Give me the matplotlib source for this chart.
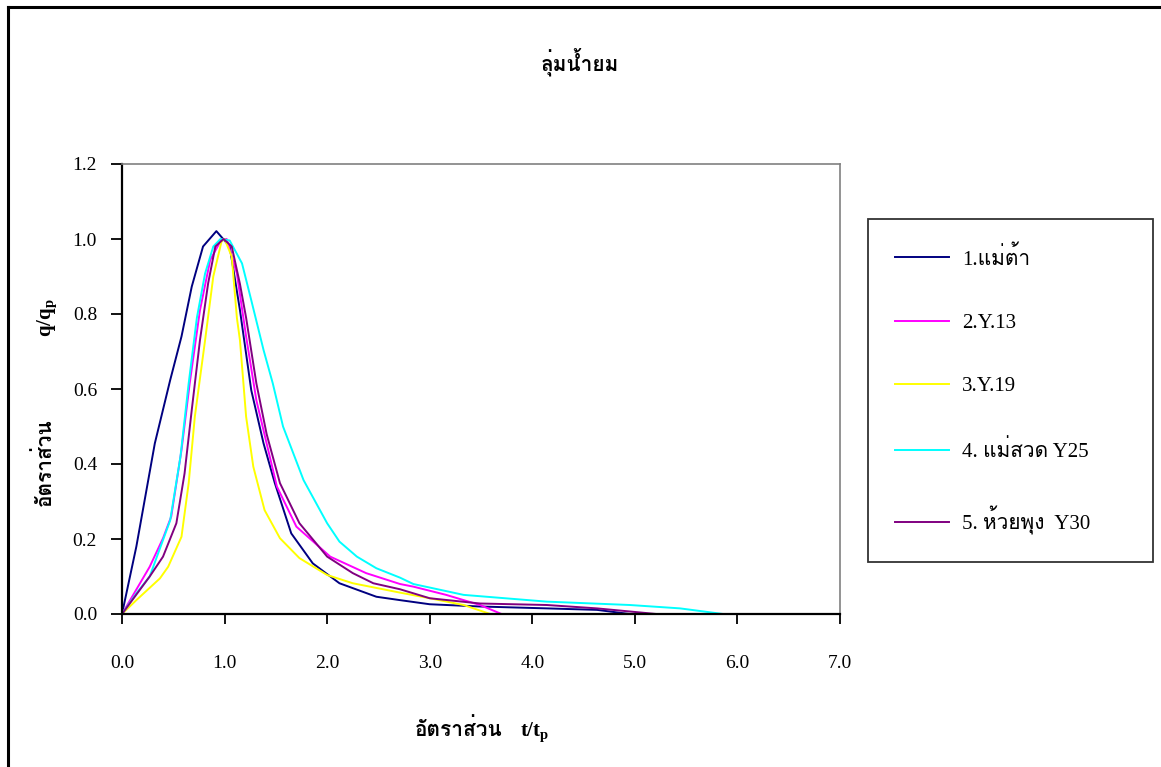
import matplotlib
matplotlib.use("Agg")
import matplotlib.pyplot as plt
from matplotlib import font_manager
from matplotlib.lines import Line2D
from fontTools.ttLib import TTFont


def find_thai_font():
    # look for any installed font that has Thai glyphs
    for f in font_manager.fontManager.ttflist:
        try:
            tt = TTFont(f.fname, fontNumber=0, lazy=True)
            cmap = tt.getBestCmap()
            if cmap and 0x0E01 in cmap and 0x0E48 in cmap:
                return f.name
        except Exception:
            continue
    return None


thai = find_thai_font()
serif = ["Liberation Serif"] + ([thai] if thai else []) + ["DejaVu Sans"]
sans = ([thai] if thai else []) + ["DejaVu Sans"]

plt.rcParams["mathtext.fontset"] = "custom"
plt.rcParams["mathtext.rm"] = "Liberation Serif"
plt.rcParams["mathtext.it"] = "Liberation Serif:italic"
plt.rcParams["mathtext.bf"] = "Liberation Serif:bold"

# data (t/tp, q/qp)
t1 = [0, 0.14, 0.32, 0.47, 0.58, 0.68, 0.79, 0.92, 1.05, 1.15, 1.26, 1.38, 1.49, 1.65, 1.86, 2.12, 2.48, 2.71, 3.0, 3.49, 4.14, 4.63, 4.95]
q1 = [0, 0.18, 0.455, 0.624, 0.74, 0.873, 0.98, 1.021, 0.98, 0.81, 0.597, 0.455, 0.349, 0.215, 0.135, 0.082, 0.046, 0.037, 0.026, 0.02, 0.015, 0.011, 0.0]

t2 = [0, 0.27, 0.40, 0.48, 0.58, 0.66, 0.76, 0.86, 0.97, 1.02, 1.12, 1.21, 1.31, 1.41, 1.51, 1.70, 2.03, 2.38, 2.71, 2.84, 3.16, 3.49, 3.70]
q2 = [0, 0.126, 0.202, 0.26, 0.437, 0.615, 0.81, 0.944, 0.999, 1.0, 0.908, 0.74, 0.57, 0.455, 0.34, 0.233, 0.153, 0.109, 0.08, 0.073, 0.051, 0.024, 0.0]

t3 = [0, 0.14, 0.37, 0.45, 0.58, 0.65, 0.71, 0.81, 0.89, 0.97, 1.0, 1.07, 1.12, 1.15, 1.21, 1.28, 1.39, 1.54, 1.73, 2.0, 2.25, 2.71, 3.0, 3.33, 3.59]
q3 = [0, 0.037, 0.095, 0.126, 0.206, 0.349, 0.526, 0.73, 0.9, 0.993, 1.0, 0.953, 0.79, 0.73, 0.526, 0.393, 0.277, 0.202, 0.149, 0.104, 0.082, 0.057, 0.042, 0.024, 0.0]

t4 = [0, 0.14, 0.27, 0.47, 0.57, 0.65, 0.73, 0.81, 0.89, 0.96, 1.05, 1.17, 1.26, 1.38, 1.47, 1.57, 1.77, 2.0, 2.12, 2.29, 2.48, 2.71, 2.84, 3.33, 4.14, 4.95, 5.44, 5.86]
q4 = [0, 0.055, 0.1, 0.25, 0.42, 0.615, 0.79, 0.908, 0.98, 1.0, 0.996, 0.935, 0.837, 0.704, 0.615, 0.5, 0.357, 0.242, 0.193, 0.153, 0.122, 0.097, 0.08, 0.051, 0.033, 0.024, 0.015, 0.0]

t5 = [0, 0.27, 0.40, 0.53, 0.61, 0.68, 0.76, 0.84, 0.91, 0.99, 1.07, 1.15, 1.21, 1.31, 1.41, 1.54, 1.73, 2.0, 2.25, 2.45, 2.71, 3.0, 3.49, 4.14, 4.63, 5.21]
q5 = [0, 0.1, 0.153, 0.242, 0.375, 0.544, 0.73, 0.882, 0.98, 1.0, 0.98, 0.88, 0.79, 0.615, 0.48, 0.349, 0.242, 0.153, 0.109, 0.082, 0.066, 0.042, 0.028, 0.024, 0.015, 0.0]

labels = ["1.แม่ต้า", "2.Y.13", "3.Y.19", "4. แม่สวด Y25", "5. ห้วยพุง  Y30"]
colors = ["#000080", "#FF00FF", "#FFFF00", "#00FFFF", "#800080"]
series = [(t1, q1), (t2, q2), (t3, q3), (t4, q4), (t5, q5)]

W, H = 1161, 767
fig = plt.figure(figsize=(W / 100, H / 100), dpi=100)
ax = fig.add_axes([122 / W, 1 - 614 / H, (840 - 122) / W, (614 - 164) / H])

for (t, q), lab, c in zip(series, labels, colors):
    ax.plot(t, q, color=c, lw=1.4, label=lab)

ax.set_xlim(0, 7)
ax.set_ylim(0, 1.2)
ax.set_xticks([i for i in range(8)])
ax.set_xticklabels([f"{i:.1f}" for i in range(8)], family=serif, fontsize=14)
yt = [0, 0.2, 0.4, 0.6, 0.8, 1.0, 1.2]
ax.set_yticks(yt)
ax.set_yticklabels([f"{v:.1f}" for v in yt], family=serif, fontsize=14)
ax.tick_params(axis="x", direction="out", length=7.5, width=1.3, pad=22)
ax.tick_params(axis="y", direction="out", length=8, width=1.3, pad=10)

for s in ["top", "right"]:
    ax.spines[s].set_color("#808080")
    ax.spines[s].set_linewidth(1.2)
for s in ["left", "bottom"]:
    ax.spines[s].set_color("black")
    ax.spines[s].set_linewidth(1.6)

fig.text(580 / W, 1 - 62 / H, "ลุ่มน้ำยม", ha="center", va="center",
         fontsize=15, fontweight="bold", family=sans)

# axis titles: thai word and the ratio drawn as separate texts
fig.text(459 / W, 1 - 730 / H, "อัตราส่วน", ha="center", va="center",
         fontsize=15, fontweight="bold", family=serif)
fig.text(535 / W, 1 - 732 / H, r"$\mathbf{t/t_p}$", ha="center", va="center", fontsize=15)
fig.text(45 / W, 1 - 462 / H, "อัตราส่วน", ha="center", va="center", rotation=90,
         fontsize=15, fontweight="bold", family=serif)
fig.text(47 / W, 1 - 318 / H, r"$\mathbf{q/q_p}$", ha="center", va="center", rotation=90, fontsize=15)

leg = fig.legend(loc="upper left", bbox_to_anchor=(868 / W, 1 - 559 / H, (1153 - 868) / W, (559 - 219) / H),
                 mode="expand", frameon=True, fancybox=False, handlelength=2.6, handletextpad=0.6,
                 labelspacing=2.1, borderpad=1.3, borderaxespad=0,
                 prop={"family": serif, "size": 15})
leg.get_frame().set_edgecolor("black")
leg.get_frame().set_linewidth(1.3)

# outer chart border (only left and top visible)
fig.add_artist(Line2D([8 / W, 8 / W], [0, 1 - 7 / H], color="black", lw=2.2, transform=fig.transFigure))
fig.add_artist(Line2D([8 / W, 1], [1 - 7 / H, 1 - 7 / H], color="black", lw=2.2, transform=fig.transFigure))

fig.savefig("out.png", dpi=100)
